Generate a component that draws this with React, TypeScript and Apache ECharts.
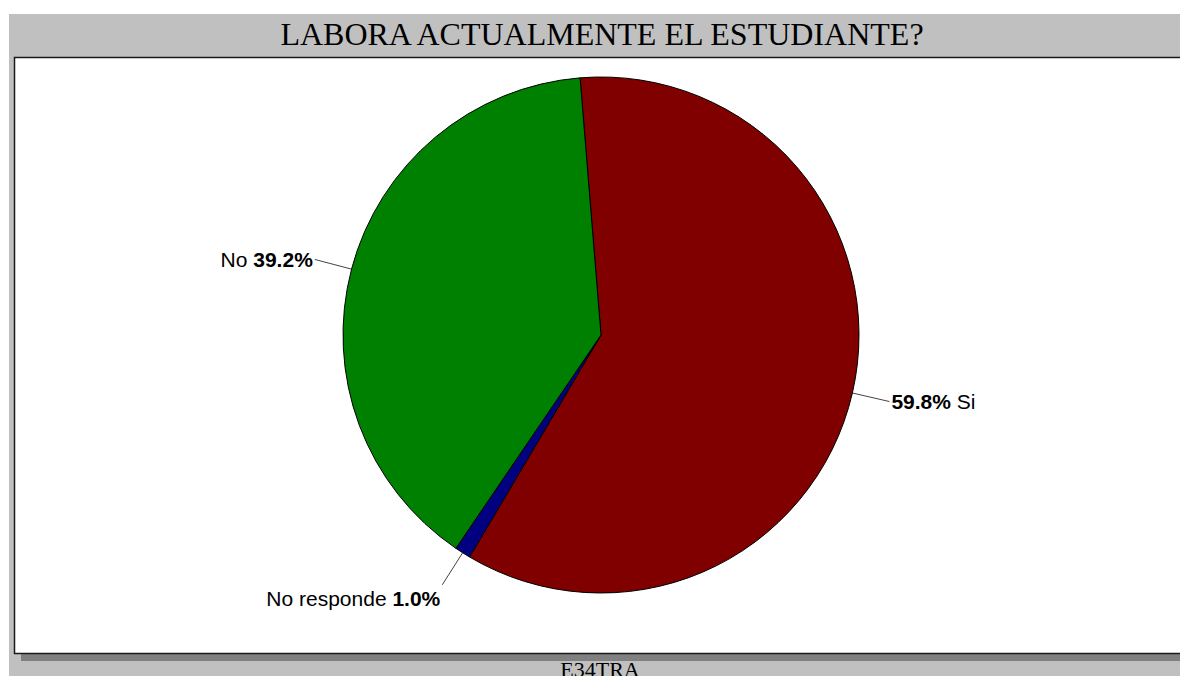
import React, { useEffect, useRef } from "react";
import * as echarts from "echarts";

const categories = ["Si", "No responde", "No"];
const values = [59.8, 1.0, 39.2];
const colors = ["#800000", "#000080", "#008000"];
const titleText = "LABORA ACTUALMENTE EL ESTUDIANTE?";
const footerText = "E34TRA";

export default function App() {
  const ref = useRef<HTMLDivElement>(null);
  useEffect(() => {
    document.body.style.margin = "0";
    const chart = echarts.init(ref.current!, null, { renderer: "svg" });
    const data = categories.map((name, i) => ({
      name,
      value: values[i],
      itemStyle: { color: colors[i] },
      label: i === 1 ? { padding: [28, 0, 0, 0] } : {},
    }));
    chart.setOption({
      animation: false,
      backgroundColor: "#ffffff",
      graphic: [
        { type: "rect", shape: { x: 9, y: 14, width: 1180, height: 670 }, style: { fill: "#c0c0c0" }, z: 0 },
        { type: "rect", shape: { x: 21, y: 654, width: 1170, height: 7 }, style: { fill: "#808080" }, z: 1 },
        {
          type: "rect",
          shape: { x: 14.5, y: 57.5, width: 1200, height: 596 },
          style: { fill: "#ffffff", stroke: "#1a1a1a", lineWidth: 1.5 },
          z: 2,
        },
        {
          type: "text",
          x: 602,
          y: 34,
          z: 3,
          style: {
            text: titleText,
            fontFamily: "Liberation Serif",
            fontSize: 32,
            fill: "#000000",
            align: "center",
            verticalAlign: "middle",
          },
        },
        {
          type: "text",
          x: 600,
          y: 669,
          z: 3,
          style: {
            text: footerText,
            fontFamily: "Liberation Serif",
            fontSize: 22,
            fill: "#000000",
            align: "center",
            verticalAlign: "middle",
          },
        },
      ],
      series: [
        {
          type: "pie",
          center: [601, 335],
          radius: 258,
          startAngle: 94.65,
          clockwise: true,
          avoidLabelOverlap: false,
          data,
          itemStyle: { borderColor: "#000000", borderWidth: 1 },
          emphasis: { disabled: true },
          label: {
            show: true,
            position: "outside",
            distanceToLabelLine: 2,
            color: "#000000",
            formatter: (p: any) => {
              const pct = Number(p.percent).toFixed(1);
              return p.dataIndex === 0 ? `{p|${pct}%}{n| ${p.name}}` : `{n|${p.name} }{p|${pct}%}`;
            },
            rich: {
              n: { fontFamily: "Liberation Sans", fontSize: 21, color: "#000000" },
              p: { fontFamily: "Liberation Sans", fontSize: 21, fontWeight: "bold", color: "#000000" },
            },
          },
          labelLine: {
            show: true,
            length: 38,
            length2: 0,
            smooth: false,
            lineStyle: { color: "#444444", width: 1 },
          },
        },
      ],
    });
    return () => chart.dispose();
  }, []);
  return <div ref={ref} style={{ width: 1180, height: 676 }} />;
}
